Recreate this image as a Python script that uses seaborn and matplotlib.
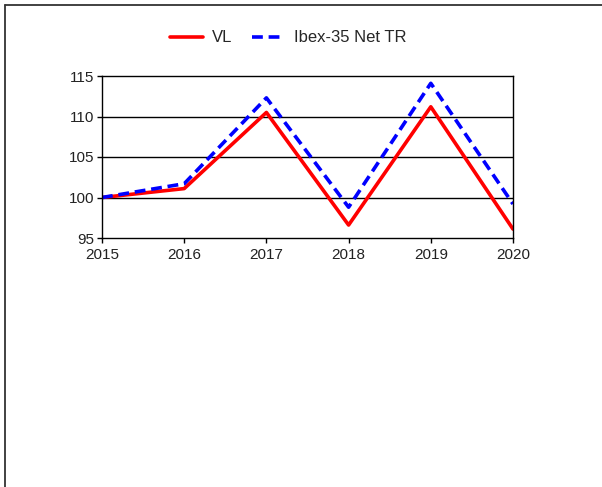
import matplotlib
matplotlib.use("Agg")
import matplotlib.pyplot as plt
import seaborn as sns
import pandas as pd
from matplotlib.lines import Line2D

years = [2015, 2016, 2017, 2018, 2019, 2020]
vl = [100.0, 101.1, 110.5, 96.6, 111.2, 96.1]
ibex = [100.0, 101.7, 112.3, 98.8, 114.1, 99.2]
series_names = ["VL", "Ibex-35 Net TR"]
yticks = [95, 100, 105, 110, 115]

sns.set_theme(style="white")
plt.rcParams['font.family'] = ['Liberation Sans', 'DejaVu Sans']

df = pd.DataFrame({"year": years * 2,
                   "value": vl + ibex,
                   "series": [series_names[0]] * len(years) + [series_names[1]] * len(years)})

fig = plt.figure(figsize=(6.02, 4.87), dpi=100)
# outer frame: top and left edges only
fig.add_artist(Line2D([5 / 602, 1.0], [1 - 5 / 487, 1 - 5 / 487], transform=fig.transFigure,
                      color="#333333", linewidth=1.3))
fig.add_artist(Line2D([5 / 602, 5 / 602], [0, 1 - 5 / 487], transform=fig.transFigure,
                      color="#333333", linewidth=1.3))

ax = fig.add_axes([102 / 602, 1 - 238 / 487, 411 / 602, 162 / 487])

sns.lineplot(data=df, x="year", y="value", hue="series", style="series",
             palette={series_names[0]: "#ff0000", series_names[1]: "#0000ff"},
             dashes={series_names[0]: "", series_names[1]: (3, 1.6)},
             linewidth=2.6, ax=ax, legend=False)

for y in [100, 105, 110]:
    ax.axhline(y, color="black", linewidth=1.0, zorder=0)

ax.set_xlim(2015, 2020)
ax.set_ylim(95, 115)
ax.set_yticks(yticks)
ax.set_xticks(years)
ax.set_xlabel("")
ax.set_ylabel("")
for s in ax.spines.values():
    s.set_color("black")
    s.set_linewidth(1.0)
ax.tick_params(axis="both", direction="out", length=3.5, width=1, color="black",
               labelsize=11, labelcolor="#222222", pad=2, bottom=True, left=True)
ax.tick_params(axis="x", pad=3.5)

handles = [Line2D([], [], color="#ff0000", linewidth=2.6),
           Line2D([], [], color="#0000ff", linewidth=2.6, dashes=(3, 1.6))]
fig.legend(handles, series_names, loc="center", bbox_to_anchor=(288 / 602, 1 - 38 / 487),
           ncol=2, frameon=False, fontsize=12, handlelength=2.0, columnspacing=1.2,
           handletextpad=0.5)

fig.savefig("out.png", dpi=100)
